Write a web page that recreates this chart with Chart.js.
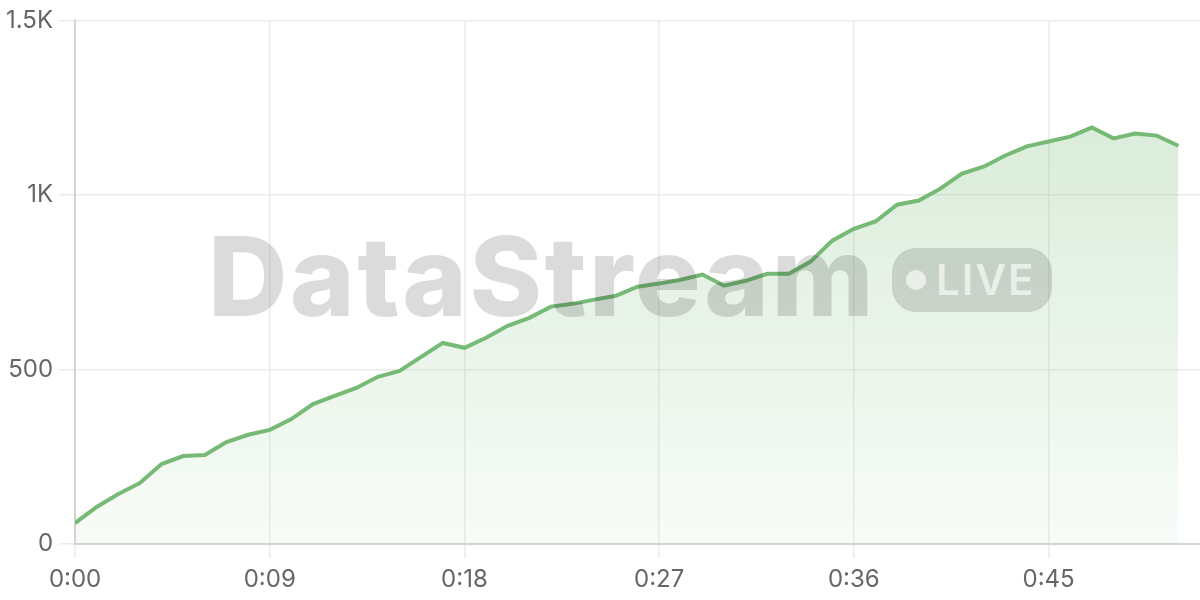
<!DOCTYPE html>
<html>
<head>
<meta charset="utf-8">
<script src="https://cdn.jsdelivr.net/npm/chart.js@4.4.1/dist/chart.umd.min.js"></script>
<style>
  html, body { margin: 0; padding: 0; background: #ffffff; }
  #wrap { position: relative; width: 1200px; height: 600px; }
  canvas { display: block; }
  #wm { position: absolute; left: 0; top: 0; width: 1200px; height: 600px; pointer-events: none; }
  #wm .name { position: absolute; left: 208px; top: 221px; font-family: Inter, sans-serif; font-weight: 800; font-size: 110px; letter-spacing: 2.5px; color: rgba(0,0,0,0.14); line-height: 1; white-space: nowrap; }
  #wm .badge { position: absolute; left: 892px; top: 248px; width: 160px; height: 64px; border-radius: 24px; background: rgba(0,0,0,0.13); }
  #wm .dot { position: absolute; left: 906px; top: 270px; width: 20px; height: 20px; border-radius: 50%; background: rgba(255,255,255,0.6); }
  #wm .live { position: absolute; left: 936px; top: 259px; font-family: Inter, sans-serif; font-weight: 600; font-size: 42px; line-height: 1; color: rgba(255,255,255,0.6); letter-spacing: 2px; }
</style>
</head>
<body>
<div id="wrap">
  <canvas id="c" width="1200" height="600"></canvas>
  <div id="wm"><div class="name">DataStream</div><div class="badge"></div><div class="dot"></div><div class="live">LIVE</div></div>
</div>
<script>
const seconds = [0,1,2,3,4,5,6,7,8,9,10,11,12,13,14,15,16,17,18,19,20,21,22,23,24,25,26,27,28,29,30,31,32,33,34,35,36,37,38,39,40,41,42,43,44,45,46,47,48,49,50,51];
const values = [60,106,143,175,229,252,255,292,313,327,358,401,424,447,479,496,536,576,562,591,625,648,680,688,700,711,737,746,757,772,740,754,774,774,809,869,903,924,972,984,1018,1061,1081,1113,1139,1153,1167,1193,1162,1176,1170,1141];
const xTickStep = 9;
const yTickValues = [0,500,1000,1500];

const points = seconds.map((s, i) => ({ x: s, y: values[i] }));

function fmtTime(v) {
  const m = Math.floor(v / 60), s = v % 60;
  return m + ':' + String(s).padStart(2, '0');
}
function fmtY(v) {
  return v >= 1000 ? (v / 1000) + 'K' : String(v);
}

const ctx = document.getElementById('c');
new Chart(ctx, {
  type: 'line',
  data: {
    datasets: [{
      data: points,
      borderColor: '#76ba76',
      borderWidth: 4,
      pointRadius: 0,
      tension: 0,
      fill: 'origin',
      backgroundColor: (c) => {
        const area = c.chart.chartArea;
        if (!area) return 'rgba(118,186,118,0.2)';
        const g = c.chart.ctx.createLinearGradient(0, area.top, 0, area.bottom);
        g.addColorStop(0, 'rgba(118,186,118,0.32)');
        g.addColorStop(1, 'rgba(118,186,118,0.05)');
        return g;
      }
    }]
  },
  options: {
    responsive: false,
    animation: false,
    devicePixelRatio: 1,
    layout: { padding: { top: 10, right: 0, left: 0, bottom: -2 } },
    plugins: { legend: { display: false }, tooltip: { enabled: false } },
    scales: {
      x: {
        type: 'linear',
        min: 0,
        max: 52,
        grid: { color: '#ebebeb', lineWidth: 1.5, tickLength: 14, tickColor: '#ebebeb' },
        border: { color: '#d4d4d4', width: 2 },
        ticks: {
          stepSize: xTickStep,
          includeBounds: false,
          color: '#666',
          font: { family: 'Inter, sans-serif', size: 24, lineHeight: 1.0 },
          padding: 10,
          maxRotation: 0,
          callback: (v) => fmtTime(v)
        }
      },
      y: {
        min: 0,
        max: 1500,
        afterBuildTicks: (axis) => { axis.ticks = yTickValues.map(v => ({ value: v })); },
        grid: { color: '#ebebeb', lineWidth: 1.5, tickLength: 16, tickColor: '#ebebeb' },
        border: { color: '#d4d4d4', width: 2 },
        ticks: {
          color: '#666',
          font: { family: 'Inter, sans-serif', size: 24 },
          padding: 6,
          callback: (v) => fmtY(v)
        }
      }
    }
  }
});
</script>
</body>
</html>
